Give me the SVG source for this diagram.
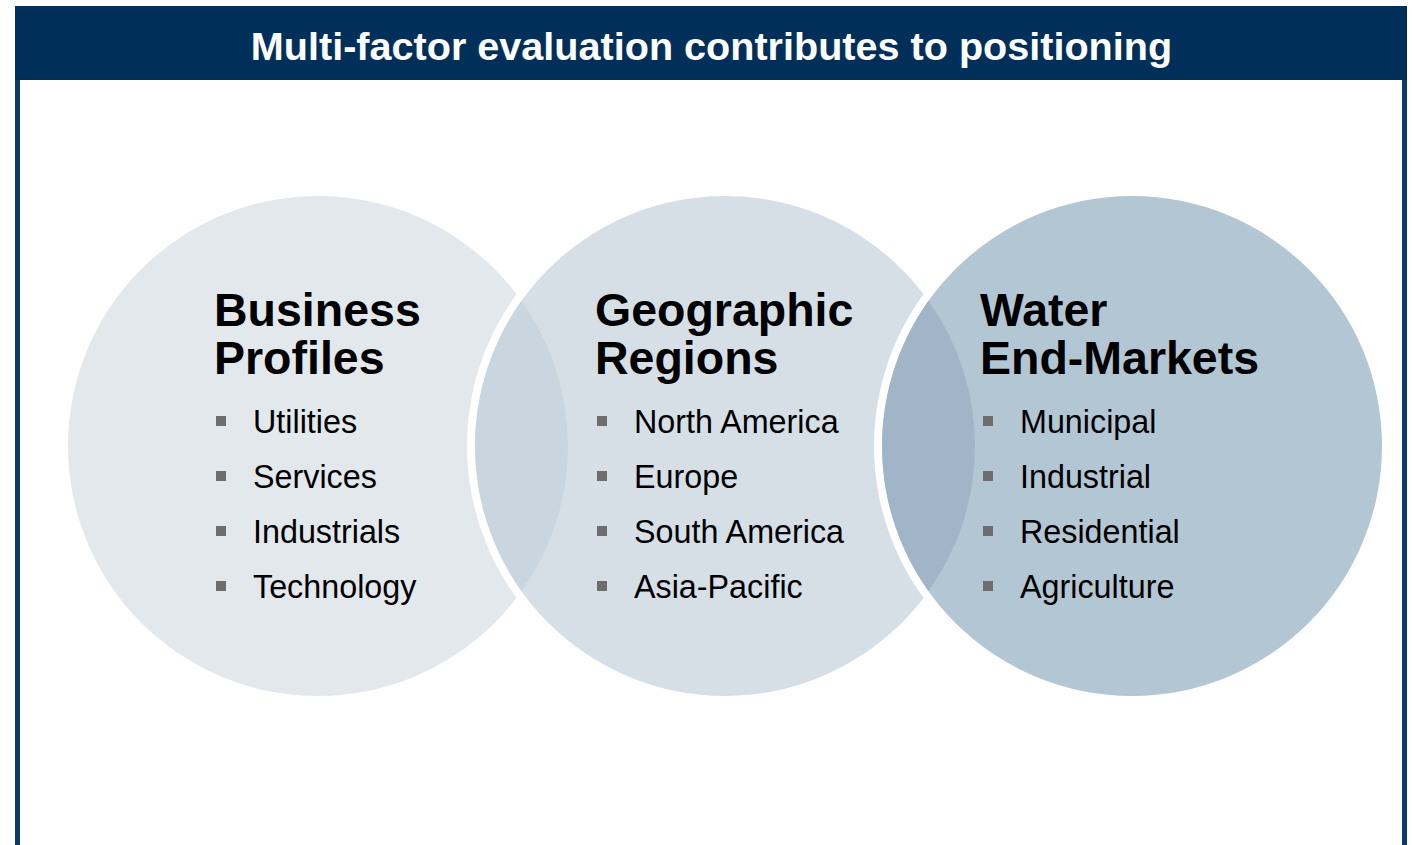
<svg xmlns="http://www.w3.org/2000/svg" width="1412" height="845" viewBox="0 0 1412 845">
<style>
.title{font-family:"Liberation Sans",Arial,sans-serif;font-weight:bold;font-size:39.6px;fill:#ffffff}
.head{font-family:"Liberation Sans",Arial,sans-serif;font-weight:bold;font-size:46.5px;fill:#000000}
.item{font-family:"Liberation Sans",Arial,sans-serif;font-size:32.3px;fill:#000000}
.bul{fill:#6d6d6d}
.ring{fill:#ffffff}
</style>
<rect x="0" y="0" width="1412" height="845" fill="#ffffff"/>
<g id="frame">
<rect x="15" y="6" width="1392" height="74" fill="#00305a"/>
<rect x="15" y="80" width="5" height="770" fill="#0b3b66"/>
<rect x="1402" y="80" width="5" height="770" fill="#0b3b66"/>
<text class="title" x="711.5" y="60" text-anchor="middle">Multi-factor evaluation contributes to positioning</text>
</g>
<g id="circle-business">
<circle cx="318" cy="446" r="250" fill="#e3e8ed"/>
</g>
<g id="circle-geographic">
<circle class="ring" cx="725" cy="446" r="258"/>
<circle cx="725" cy="446" r="250" fill="#d6dfe6"/>
</g>
<g id="circle-water">
<circle class="ring" cx="1132" cy="446" r="258"/>
<circle cx="1132" cy="446" r="250" fill="#b3c6d3"/>
</g>
<g id="overlaps">
<path d="M521.5 300.8 A250 250 0 0 1 521.5 591.2 A250 250 0 0 1 521.5 300.8 Z" fill="#c9d6df"/>
<path d="M928.5 300.8 A250 250 0 0 1 928.5 591.2 A250 250 0 0 1 928.5 300.8 Z" fill="#a0b6c8"/>
</g>
<g id="text-business">
<text class="head" x="214" y="326">Business</text>
<text class="head" x="214" y="374">Profiles</text>
<rect class="bul" x="216" y="416" width="10" height="10"/>
<rect class="bul" x="216" y="471" width="10" height="10"/>
<rect class="bul" x="216" y="526" width="10" height="10"/>
<rect class="bul" x="216" y="581" width="10" height="10"/>
<text class="item" x="253" y="433">Utilities</text>
<text class="item" x="253" y="488">Services</text>
<text class="item" x="253" y="543">Industrials</text>
<text class="item" x="253" y="598">Technology</text>
</g>
<g id="text-geographic">
<text class="head" x="595" y="326">Geographic</text>
<text class="head" x="595" y="374">Regions</text>
<rect class="bul" x="597" y="416" width="10" height="10"/>
<rect class="bul" x="597" y="471" width="10" height="10"/>
<rect class="bul" x="597" y="526" width="10" height="10"/>
<rect class="bul" x="597" y="581" width="10" height="10"/>
<text class="item" x="634" y="433">North America</text>
<text class="item" x="634" y="488">Europe</text>
<text class="item" x="634" y="543">South America</text>
<text class="item" x="634" y="598">Asia-Pacific</text>
</g>
<g id="text-water">
<text class="head" x="980" y="326">Water</text>
<text class="head" x="980" y="374">End-Markets</text>
<rect class="bul" x="983" y="416" width="10" height="10"/>
<rect class="bul" x="983" y="471" width="10" height="10"/>
<rect class="bul" x="983" y="526" width="10" height="10"/>
<rect class="bul" x="983" y="581" width="10" height="10"/>
<text class="item" x="1020" y="433">Municipal</text>
<text class="item" x="1020" y="488">Industrial</text>
<text class="item" x="1020" y="543">Residential</text>
<text class="item" x="1020" y="598">Agriculture</text>
</g>
</svg>
